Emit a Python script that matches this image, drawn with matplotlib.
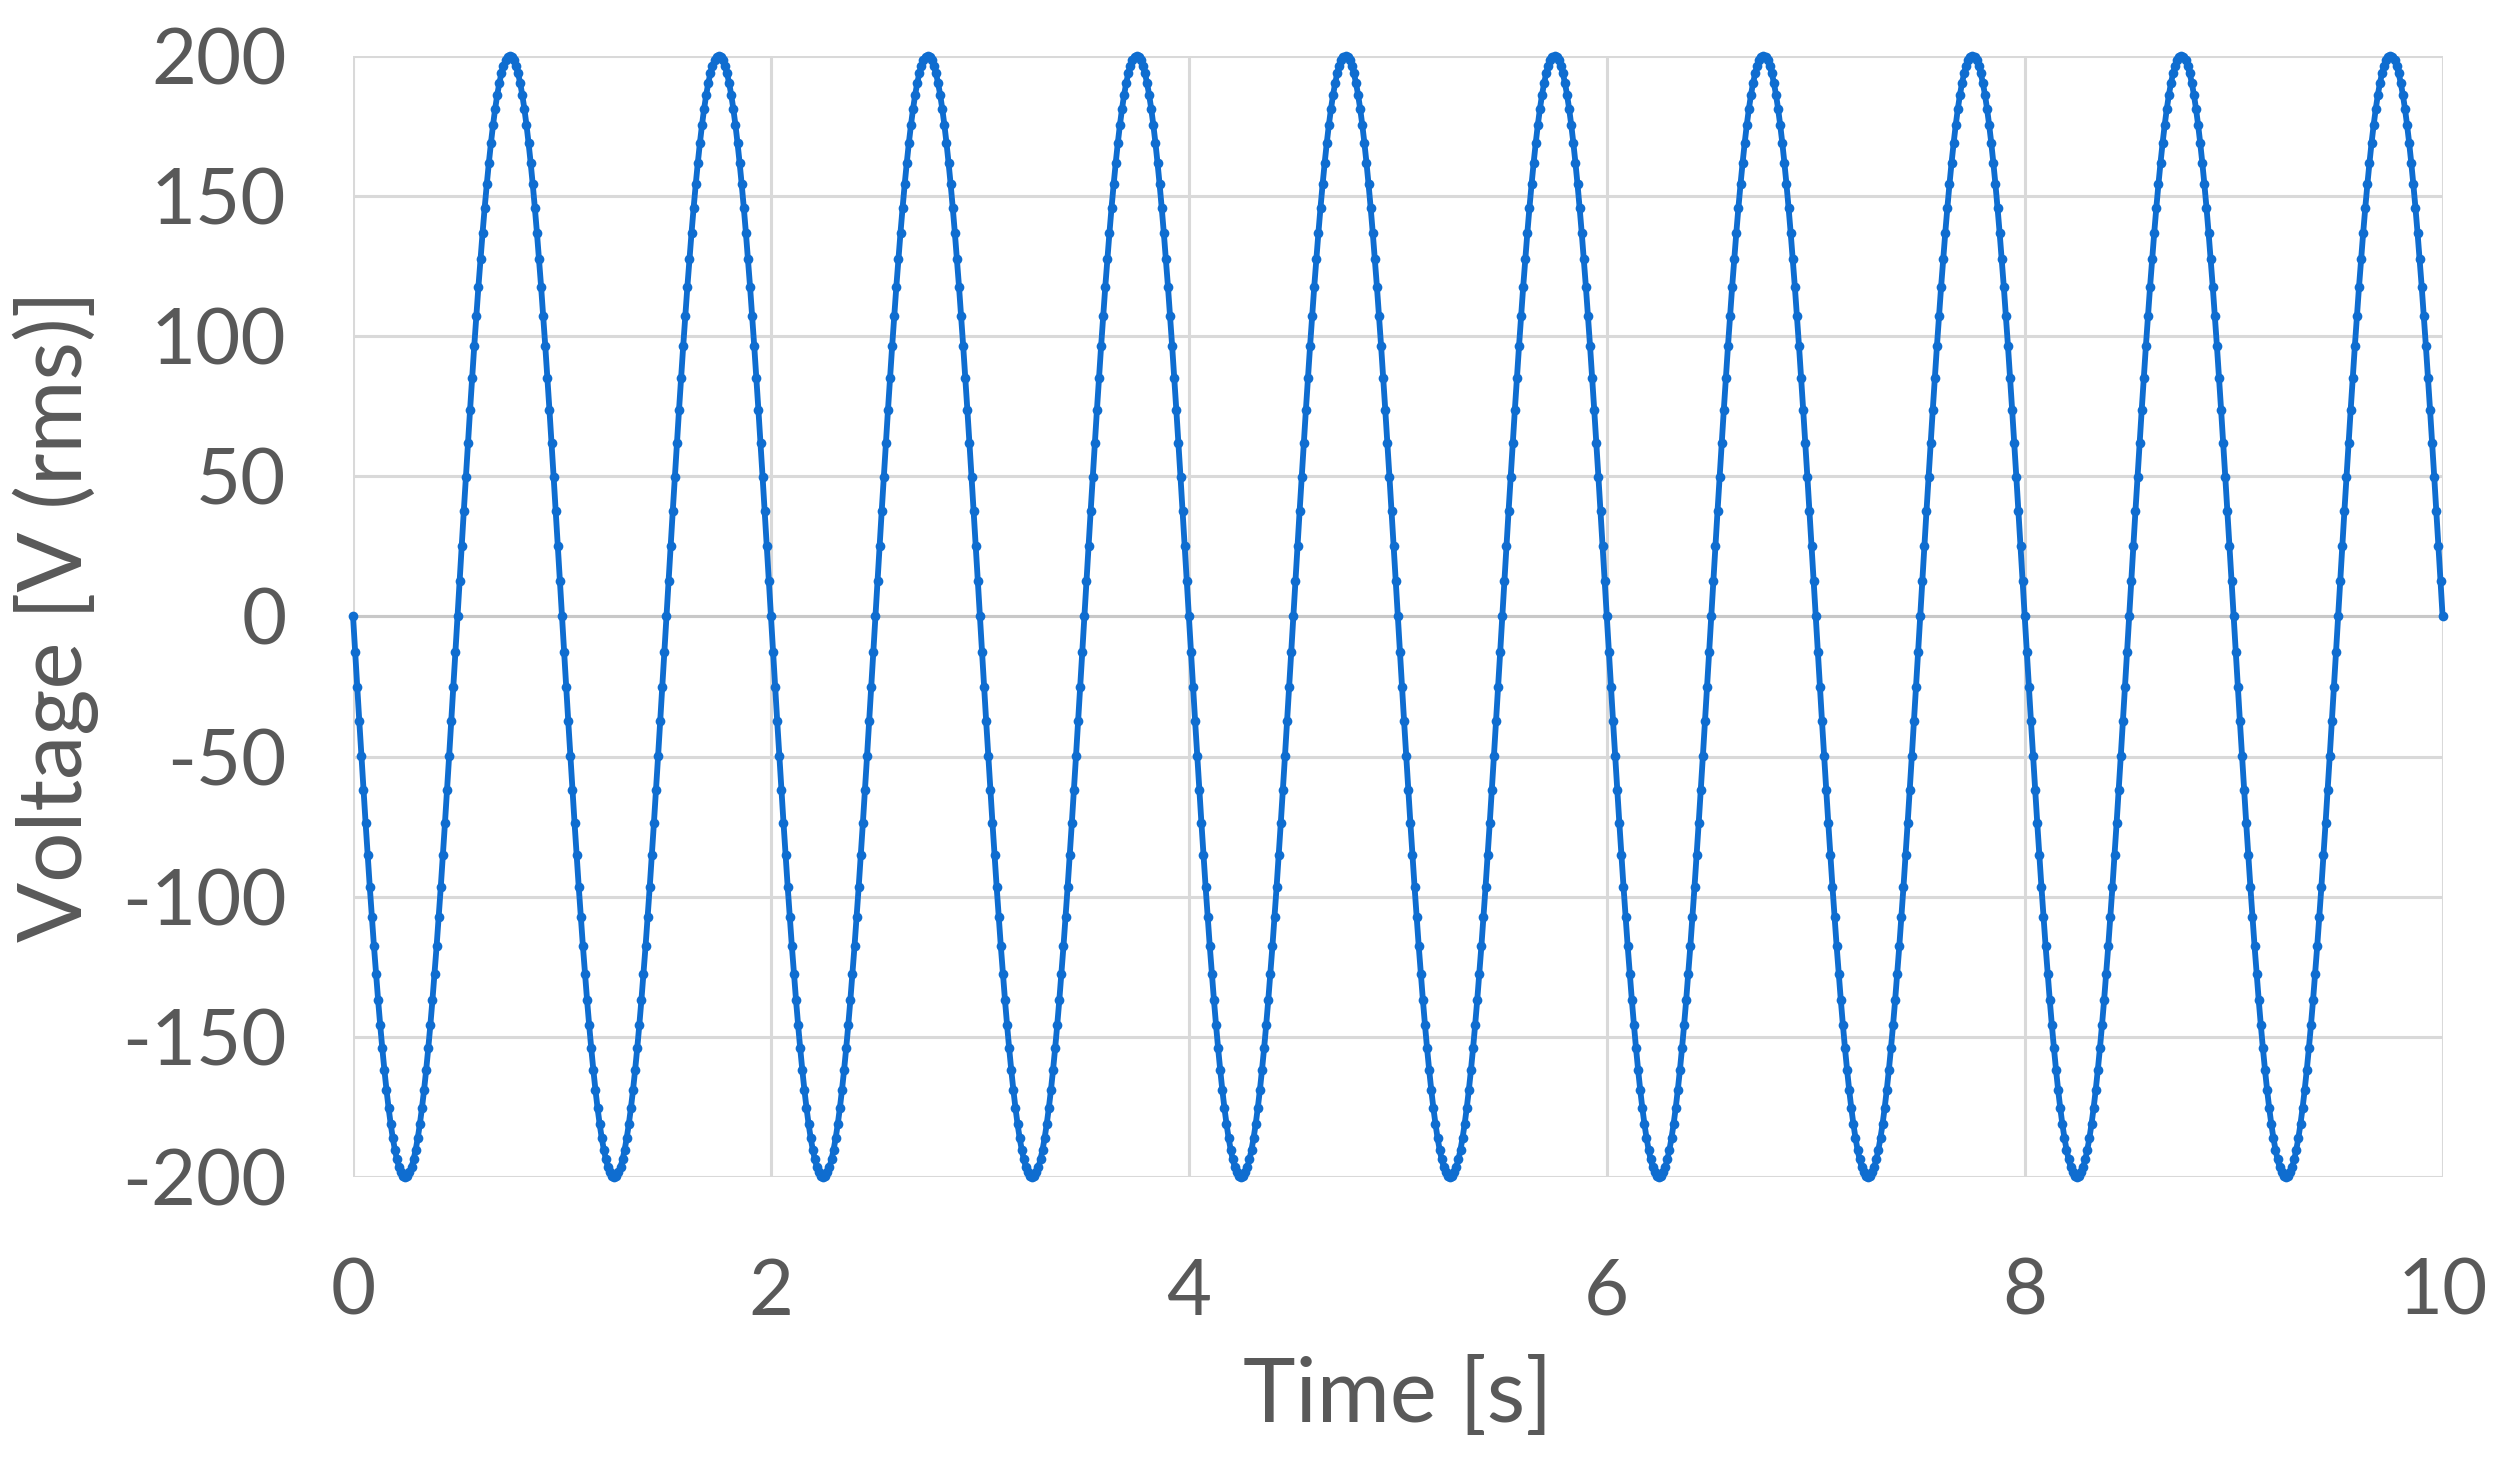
import numpy as np
import matplotlib
matplotlib.use("Agg")
import matplotlib.pyplot as plt

cycle_voltage = [
    0, -12.6, -25.1, -37.5, -49.7, -61.8, -73.6, -85.2, -96.4, -107.2,
    -117.6, -127.5, -136.9, -145.8, -154.1, -161.8, -168.9, -175.3, -181.0, -186.0,
    -190.2, -193.7, -196.5, -198.4, -199.6, -200, -199.6, -198.4, -196.5, -193.7,
    -190.2, -186.0, -181.0, -175.3, -168.9, -161.8, -154.1, -145.8, -136.9, -127.5,
    -117.6, -107.2, -96.4, -85.2, -73.6, -61.8, -49.7, -37.5, -25.1, -12.6,
    0, 12.6, 25.1, 37.5, 49.7, 61.8, 73.6, 85.2, 96.4, 107.2,
    117.6, 127.5, 136.9, 145.8, 154.1, 161.8, 168.9, 175.3, 181.0, 186.0,
    190.2, 193.7, 196.5, 198.4, 199.6, 200, 199.6, 198.4, 196.5, 193.7,
    190.2, 186.0, 181.0, 175.3, 168.9, 161.8, 154.1, 145.8, 136.9, 127.5,
    117.6, 107.2, 96.4, 85.2, 73.6, 61.8, 49.7, 37.5, 25.1, 12.6,
]
n_cycles = 10
sample_step = 0.01
x_ticks = [0, 2, 4, 6, 8, 10]
y_ticks = [-200, -150, -100, -50, 0, 50, 100, 150, 200]
x_label = "Time [s]"
y_label = "Voltage [V (rms)]"

voltage = list(cycle_voltage) * n_cycles + [cycle_voltage[0]]
time = [i * sample_step for i in range(len(voltage))]

plt.rcParams['font.family'] = ['Lato', 'DejaVu Sans']
text_color = '#595959'
grid_color = '#d9d9d9'
line_color = '#0f6dd0'

fig = plt.figure(figsize=(24.95, 14.67), dpi=100)
ax = fig.add_axes([0.1415, 0.1977, 0.979 - 0.1415, 0.962 - 0.1977])

ax.plot(time, voltage, color=line_color, lw=4.2, marker='o', ms=7,
        markeredgewidth=0, zorder=3, clip_on=False)

ax.set_xlim(0, 10)
ax.set_ylim(-200, 200)
ax.set_xticks(x_ticks)
ax.set_yticks(y_ticks)
ax.set_xticklabels([str(v) for v in x_ticks])
ax.set_yticklabels([str(v) for v in y_ticks])

for s in ax.spines.values():
    s.set_visible(False)
ax.grid(True, color=grid_color, lw=2.2, zorder=0)
ax.axhline(0, color='#c8c8c8', lw=2.2, zorder=1)
ax.set_axisbelow(True)

ax.tick_params(axis='both', length=0, labelsize=56, colors=text_color)
ax.tick_params(axis='x', pad=58)
ax.tick_params(axis='y', pad=48)

ax.set_xlabel(x_label, fontsize=64, color=text_color)
ax.set_ylabel(y_label, fontsize=64, color=text_color)
ax.xaxis.set_label_coords(0.5, -0.196)
ax.yaxis.set_label_coords(-0.142, 0.5)
ax.xaxis.label.set_va('center')
ax.yaxis.label.set_va('center')

fig.savefig("out.png", dpi=100, facecolor='white')
